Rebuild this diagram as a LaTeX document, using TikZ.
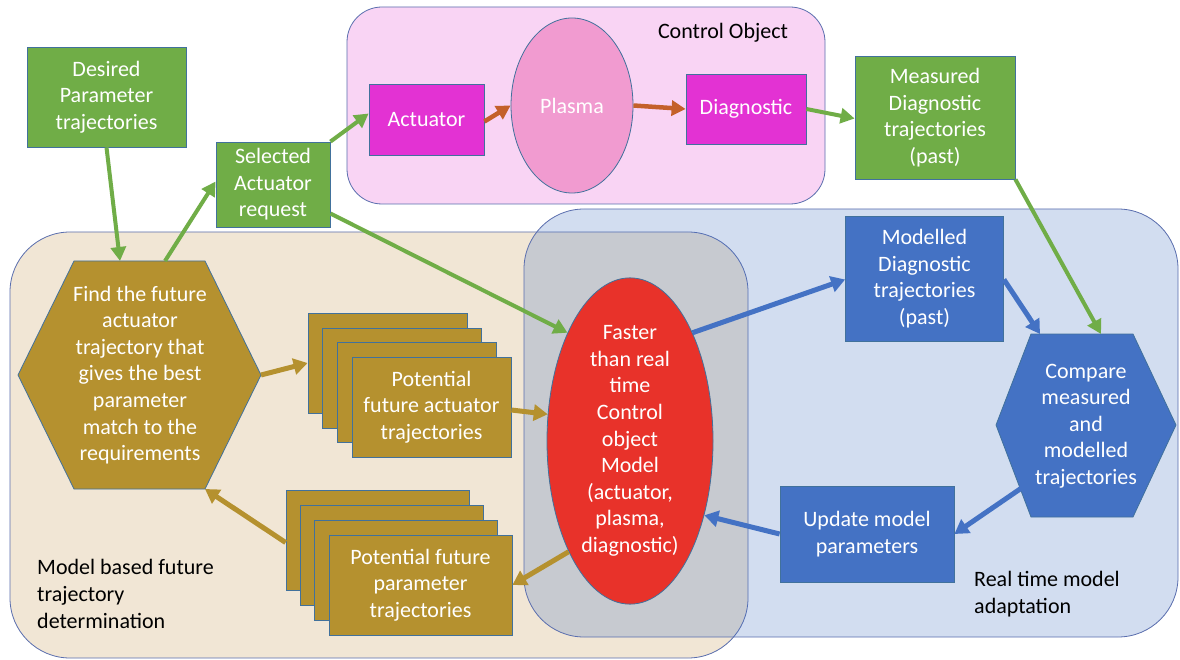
\documentclass[tikz,border=0pt]{standalone}
\usepackage{fontspec}
\setmainfont{Carlito}
\usetikzlibrary{arrows.meta,shapes.geometric,calc}
\definecolor{cgreen}{HTML}{70AD47}
\definecolor{cgold}{HTML}{B5912F}
\definecolor{cmag}{HTML}{E332D3}
\definecolor{cplasma}{HTML}{F19BD0}
\definecolor{cred}{HTML}{E8322A}
\definecolor{cblue}{HTML}{4472C4}
\definecolor{cbord}{HTML}{41719C}
\definecolor{cregb}{HTML}{5A6EAE}
\definecolor{cpink}{HTML}{F9D4F4}
\definecolor{cbeige}{HTML}{F1E6D5}
\definecolor{corange}{HTML}{C4602A}
\tikzset{
  box/.style={draw=cbord, line width=0.8pt, text=white, align=center, inner sep=0pt},
  gbox/.style={box, fill=cgreen},
  mbox/.style={box, fill=cmag},
  bbox/.style={box, fill=cblue},
  stackbox/.style={box, fill=cgold, minimum width=159pt, minimum height=100pt},
  pstackbox/.style={box, fill=cgold, minimum width=183pt, minimum height=100pt},
  hexfill/.style={draw=cbord, line width=0.8pt},
  region/.style={draw=cregb, line width=0.8pt},
  lbl/.style={text=black, align=left, inner sep=0pt},
  garrow/.style={draw=cgreen, line width=4pt, -{Triangle[length=14pt,width=15pt]}},
  oarrow/.style={draw=corange, line width=4.5pt, -{Triangle[length=14pt,width=15pt]}},
  goldarrow/.style={draw=cgold, line width=5pt, -{Triangle[length=14pt,width=16pt]}},
  barrow/.style={draw=cblue, line width=5pt, -{Triangle[length=14pt,width=16pt]}},
}
\begin{document}
\begin{tikzpicture}[x=1pt,y=-1pt,font=\fontsize{22}{26.6}\selectfont]
\useasboundingbox (0,0) rectangle (1180,660);
\fill[white] (0,0) rectangle (1180,660);
% regions
\draw[region, fill=cbeige, rounded corners=60pt] (10,232) rectangle (748,658);
\draw[region, fill=cblue, fill opacity=0.24, rounded corners=60pt] (524,209) rectangle (1178,637);
\draw[region, fill=cpink, rounded corners=35pt] (347,7) rectangle (825,204);
\node[lbl] (colabel) at (723,33) {Control Object};
\node[lbl, anchor=west] (mblabel) at (37,594) {Model based future\\trajectory\\determination};
\node[lbl, anchor=west] (rtlabel) at (974,594) {Real time model\\adaptation};
% control object
\node[mbox, minimum width=115pt, minimum height=71pt] (act) at (426.5,119.5) {Actuator};
\node[box, ellipse, fill=cplasma, minimum width=122pt, minimum height=175pt] (plasma) at (572,105.5) {Plasma};
\node[mbox, minimum width=120pt, minimum height=70pt] (diag) at (746,109) {Diagnostic};
% green boxes
\node[gbox, minimum width=159pt, minimum height=100pt] (des) at (106.5,97) {Desired\\Parameter\\trajectories};
\node[gbox, minimum width=114pt, minimum height=85pt] (sel) at (273,184.5) {Selected\\Actuator\\request};
\node[gbox, minimum width=160pt, minimum height=123pt] (meas) at (935,117.5) {Measured\\Diagnostic\\trajectories\\(past)};
% find hexagon
\coordinate (fL) at (18,375);
\coordinate (fTL) at (74,261);
\coordinate (fTR) at (205,261);
\coordinate (fR) at (261,375);
\coordinate (fBR) at (205,489);
\coordinate (fBL) at (74,489);
\draw[hexfill, fill=cgold] (fL) -- (fTL) -- (fTR) -- (fR) -- (fBR) -- (fBL) -- cycle;
\node[box, draw=none] (find) at (140,375) {Find the future\\actuator\\trajectory that\\gives the best\\parameter\\match to the\\requirements};
\coordinate (findIn) at (120,261);
\coordinate (findOut) at (165,261);
% compare hexagon
\coordinate (cL) at (996,425);
\coordinate (cTL) at (1031,334);
\coordinate (cTR) at (1133,334);
\coordinate (cR) at (1176,425);
\coordinate (cBR) at (1133,517);
\coordinate (cBL) at (1031,517);
\draw[hexfill, fill=cblue] (cL) -- (cTL) -- (cTR) -- (cR) -- (cBR) -- (cBL) -- cycle;
\node[box, draw=none] (cmp) at (1086,426) {Compare\\measured\\and\\modelled\\trajectories};
\coordinate (cmpIn1) at (1040,334);
\coordinate (cmpIn2) at (1101,334);
\coordinate (cmpOut) at (1023,487);
% model ellipse
\node[box, ellipse, fill=cred, minimum width=166pt, minimum height=298pt] (model) at (630,441) {Faster\\than real\\time\\Control\\object\\Model\\(actuator,\\plasma,\\diagnostic)};
% blue boxes
\node[bbox, minimum width=158pt, minimum height=125pt] (modd) at (924.5,278.5) {Modelled\\Diagnostic\\trajectories\\(past)};
\node[bbox, minimum width=174pt, minimum height=96pt] (upd) at (867,534) {Update model\\parameters};
% actuator stack
\node[stackbox] (as1) at (387.5,363) {};
\node[stackbox] (as2) at (402,378) {};
\node[stackbox] (as3) at (416.5,392.5) {};
\node[stackbox] (as4) at (431.5,407) {Potential\\future actuator\\trajectories};
% parameter stack
\node[pstackbox] (ps1) at (377.5,540.5) {};
\node[pstackbox] (ps2) at (392,555) {};
\node[pstackbox] (ps3) at (406,570) {};
\node[pstackbox] (ps4) at (420.5,585) {Potential future\\parameter\\trajectories};
% arrows
\draw[garrow] (des.south) -- (findIn);
\draw[garrow] (findOut) -- ([yshift=3pt]sel.west);
\draw[garrow] (sel.north east) -- ([yshift=6pt]act.west);
\draw[garrow] ([yshift=-29pt]sel.east) -- (model.120);
\draw[garrow] (diag.east) -- ([yshift=-1pt]meas.west);
\draw[garrow] (meas.south east) -- (cmpIn2);
\draw[oarrow] ([yshift=-2pt]act.east) -- (plasma.west);
\draw[oarrow] (plasma.east) -- (diag.west);
\draw[goldarrow] (fR) -- (as1.west);
\draw[goldarrow] ([yshift=-3pt]as4.east) -- (model.162);
\draw[goldarrow] (model.-119) -- (ps4.east);
\draw[goldarrow] ([yshift=-2pt]ps1.west) -- (fBR);
\draw[barrow] (model.60) -- ([yshift=-1pt]modd.west);
\draw[barrow] ([yshift=-1pt]modd.east) -- (cmpIn1);
\draw[barrow] (cmpOut) -- (upd.east);
\draw[barrow] (upd.west) -- (model.-45);
\end{tikzpicture}
\end{document}
